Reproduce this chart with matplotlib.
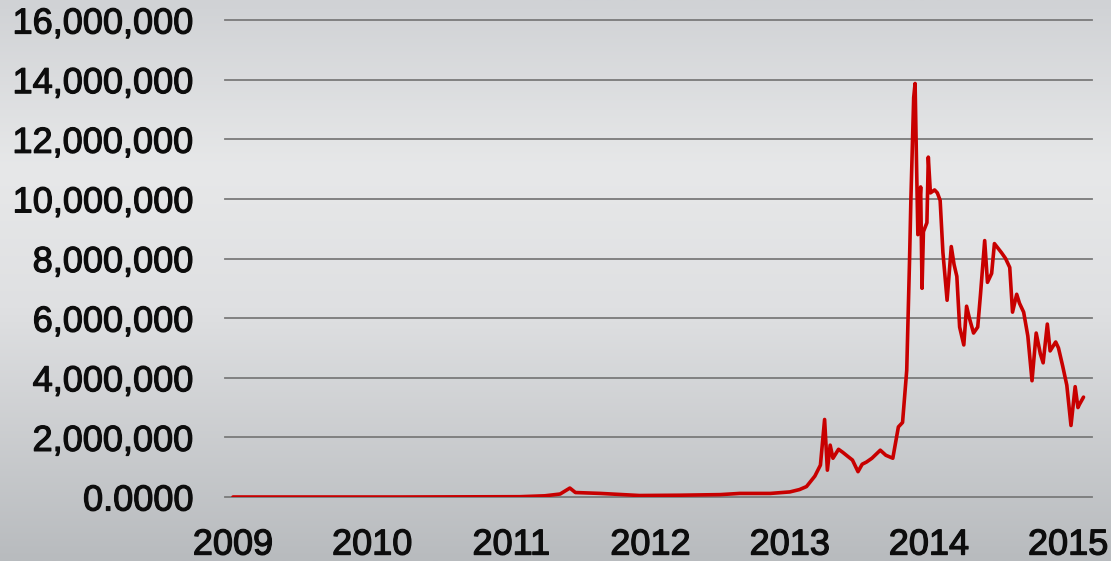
import numpy as np
import matplotlib
matplotlib.use("Agg")
import matplotlib.pyplot as plt
import matplotlib.patheffects as pe
from matplotlib.colors import LinearSegmentedColormap

# Data: decimal year vs value
years = [2009.00, 2010.20, 2011.06, 2011.24, 2011.35, 2011.42, 2011.46, 2011.64, 2011.92,
         2012.21, 2012.50, 2012.64, 2012.86, 2013.00, 2013.07, 2013.12, 2013.18, 2013.22,
         2013.25, 2013.27, 2013.29, 2013.31, 2013.35, 2013.38, 2013.42, 2013.45, 2013.49,
         2013.52, 2013.55, 2013.59, 2013.65, 2013.69, 2013.74, 2013.78, 2013.81, 2013.84,
         2013.86, 2013.87, 2013.89, 2013.90, 2013.91, 2013.92, 2013.94, 2013.95, 2013.96,
         2013.985, 2013.995, 2014.01, 2014.04, 2014.06, 2014.08, 2014.10, 2014.13, 2014.16,
         2014.18, 2014.20, 2014.22, 2014.25, 2014.27, 2014.29, 2014.32, 2014.35, 2014.37,
         2014.40, 2014.42, 2014.45, 2014.47, 2014.52, 2014.55, 2014.58, 2014.60, 2014.63,
         2014.65, 2014.68, 2014.71, 2014.74, 2014.77, 2014.80, 2014.82, 2014.85, 2014.87,
         2014.91, 2014.93, 2014.96, 2014.99, 2015.02, 2015.05, 2015.07, 2015.08, 2015.11]
values_m = [0.0, 0.0, 0.01, 0.04, 0.10, 0.30, 0.15, 0.12, 0.05,
            0.06, 0.08, 0.12, 0.12, 0.17, 0.25, 0.35, 0.70, 1.07,
            2.60, 0.90, 1.74, 1.30, 1.60, 1.50, 1.35, 1.24, 0.85,
            1.10, 1.17, 1.30, 1.57, 1.40, 1.30, 2.35, 2.50, 4.25,
            7.90, 10.0, 13.4, 13.87, 11.3, 8.8, 10.4, 7.0, 8.9,
            9.2, 11.4, 10.2, 10.3, 10.2, 9.95, 8.2, 6.6, 8.4,
            7.8, 7.4, 5.7, 5.1, 6.4, 6.0, 5.5, 5.7, 6.8,
            8.6, 7.2, 7.5, 8.5, 8.2, 8.0, 7.7, 6.2, 6.8,
            6.5, 6.2, 5.4, 3.9, 5.5, 4.8, 4.5, 5.8, 4.9,
            5.2, 5.0, 4.4, 3.75, 2.4, 3.7, 3.0, 3.1, 3.35]
values = [v * 1e6 for v in values_m]

y_ticks = [0, 2e6, 4e6, 6e6, 8e6, 10e6, 12e6, 14e6, 16e6]
y_labels = ["0.0000", "2,000,000", "4,000,000", "6,000,000", "8,000,000",
            "10,000,000", "12,000,000", "14,000,000", "16,000,000"]
x_ticks = [2009, 2010, 2011, 2012, 2013, 2014, 2015]
x_labels = ["2009", "2010", "2011", "2012", "2013", "2014", "2015"]

W, H = 1111, 561
fig = plt.figure(figsize=(W / 100, H / 100), dpi=100)

# background gradient
bg = fig.add_axes([0, 0, 1, 1], zorder=-10)
cmap = LinearSegmentedColormap.from_list(
    "bg", [(0.0, "#d0d2d5"), (0.3, "#e7e8e9"), (0.55, "#dfe0e2"), (1.0, "#b8bbbe")])
grad = np.linspace(0, 1, 256).reshape(-1, 1)
bg.imshow(grad, aspect="auto", cmap=cmap, extent=[0, 1, 1, 0])
bg.set_axis_off()

left, right = 225 / W, 1092 / W
bottom, top = (H - 497) / H, (H - 20) / H
ax = fig.add_axes([left, bottom, right - left, top - bottom])
ax.patch.set_alpha(0)

ax.plot(years, values, color="#c80000", lw=2.6, solid_joinstyle="round",
        solid_capstyle="round", zorder=3)

ax.set_xlim(2009 - 8 / 139.2, 2009 + 859 / 139.2)
ax.set_ylim(0, 16e6)
ax.set_yticks(y_ticks)
ax.set_yticklabels(y_labels)
ax.set_xticks(x_ticks)
ax.set_xticklabels(x_labels)
for s in ax.spines.values():
    s.set_visible(False)
ax.yaxis.grid(True, color="#7a7a7a", lw=1.3)
ax.xaxis.grid(False)
ax.tick_params(axis="both", length=0, labelsize=26, labelcolor="#0d0d0d")
ax.tick_params(axis="y", pad=23)
ax.tick_params(axis="x", pad=22)
for lab in ax.get_xticklabels() + ax.get_yticklabels():
    lab.set_family(["Liberation Sans", "DejaVu Sans"])
    lab.set_path_effects([pe.withStroke(linewidth=0.9, foreground="#0d0d0d")])
for gl in ax.yaxis.get_gridlines():
    gl.set_clip_on(False)

fig.savefig("out.png", dpi=100)
